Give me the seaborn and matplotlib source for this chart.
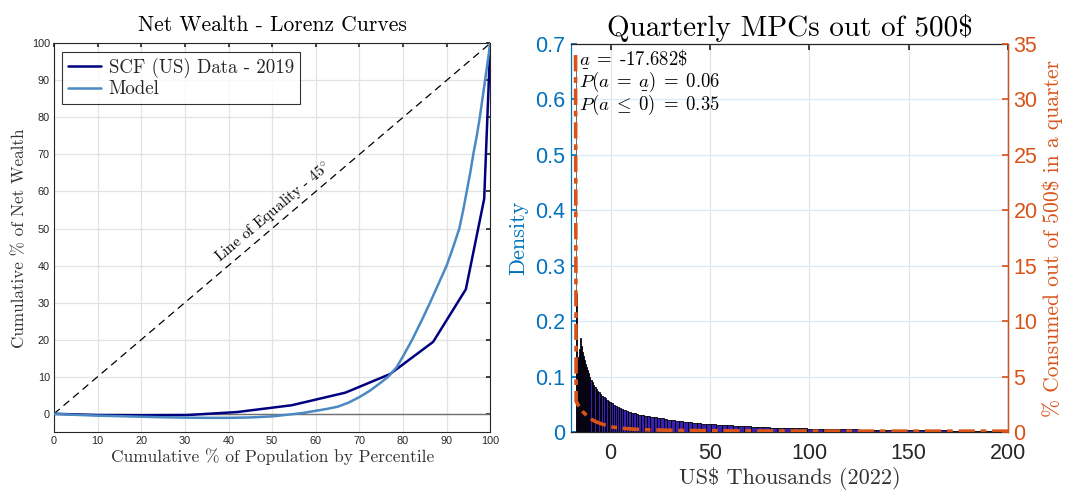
import numpy as np
import pandas as pd
import matplotlib
matplotlib.use("Agg")
import matplotlib.pyplot as plt
import seaborn as sns

# ---------------- data ----------------
# Lorenz curves (left)
scf_pop = [0, 10, 20, 30.4, 41.9, 54.5, 66.8, 77.0, 86.9, 94.4, 98.6, 100]
scf_wealth = [0, -0.35, -0.4, -0.35, 0.45, 2.3, 5.7, 10.7, 19.4, 33.6, 58.0, 100]

model_pop = [0, 5, 10, 15, 20, 25, 30, 35, 40, 45, 50, 54, 57, 60, 62.5, 65, 67.5,
             70, 72.5, 75, 76.6, 78.5, 80, 82.1, 84.2, 86.2, 88.1, 90, 91.5, 92.9,
             93.8, 94.6, 95.4, 96.1, 96.9, 97.6, 98.2, 98.8, 99.4, 100]
model_wealth = [0, -0.3, -0.5, -0.65, -0.8, -0.95, -1.05, -1.1, -1.1, -1.0, -0.7,
                -0.2, 0.2, 0.8, 1.3, 1.9, 3.0, 4.5, 6.3, 8.5, 10.0, 12.5, 15.5, 20.0,
                25.0, 30.0, 35.0, 40.0, 45.0, 50.0, 55.0, 60.0, 65.0, 70.0, 75.0,
                80.0, 85.0, 90.0, 95.0, 100]

# Wealth histogram (right), US$ thousands
bin_edges = [-17.682, -17.3, -16.9, -16.5, -16.1, -15.7, -15.3, -14.9, -14.5, -14.0,
             -13.5, -13.0, -12.5, -12.0, -11.4, -10.8, -10.2, -9.6, -9.0, -8.3, -7.6,
             -6.9, -6.2, -5.5, -4.7, -3.9, -3.1, -2.3, -1.5, -0.6, 0.3, 1.2, 2.2, 3.2,
             4.2, 5.3, 6.4, 7.6, 8.8, 10.0, 11.3, 12.6, 14.0, 15.4, 16.9, 18.4, 20.0,
             21.6, 23.3, 25.0, 26.8, 28.6, 30.5, 32.5, 34.5, 36.6, 38.8, 41.0, 43.3,
             45.7, 48.1, 50.6, 53.2, 55.9, 58.6, 61.4, 64.3, 67.3, 70.4, 73.6, 76.9,
             80.3, 83.8, 87.4, 91.1, 94.9, 98.8, 102.8, 106.9, 111.1, 115.4, 119.8,
             124.3, 128.9, 133.6, 138.4, 143.3, 148.3, 153.4, 158.6, 163.9, 169.3,
             174.8, 180.4, 186.1, 191.9, 197.8, 203.8]
density = [0.68, 0.25, 0.13, 0.135, 0.14, 0.15, 0.17, 0.155, 0.145, 0.138, 0.130,
           0.124, 0.118, 0.112, 0.106, 0.100, 0.095, 0.090, 0.086, 0.082, 0.078,
           0.075, 0.072, 0.069, 0.066, 0.063, 0.061, 0.058, 0.056, 0.054, 0.052,
           0.050, 0.048, 0.046, 0.044, 0.042, 0.040, 0.038, 0.037, 0.035, 0.034,
           0.033, 0.032, 0.031, 0.030, 0.029, 0.028, 0.027, 0.026, 0.025, 0.024,
           0.023, 0.022, 0.021, 0.020, 0.019, 0.018, 0.017, 0.016, 0.0155, 0.015,
           0.0143, 0.0136, 0.013, 0.0124, 0.0118, 0.0112, 0.0106, 0.010, 0.0095,
           0.009, 0.0086, 0.0082, 0.0078, 0.0074, 0.007, 0.0067, 0.0064, 0.0061,
           0.0058, 0.0055, 0.0052, 0.005, 0.0047, 0.0045, 0.0043, 0.0041, 0.0039,
           0.0037, 0.0035, 0.0034, 0.0032, 0.0031, 0.003, 0.0029, 0.0028, 0.0027]

# MPC curve (right axis, %)
mpc_wealth = [-17.682, -17.4, -16.5, -15.5, -14, -12, -10, -8, -6, -4, -2, 0, 3, 6,
              10, 15, 20, 30, 40, 50, 75, 100, 150, 200]
mpc_pct = [34.0, 2.8, 2.5, 2.2, 1.85, 1.5, 1.2, 1.0, 0.85, 0.72, 0.6, 0.5, 0.42,
           0.36, 0.3, 0.25, 0.22, 0.18, 0.16, 0.14, 0.12, 0.11, 0.1, 0.1]

left_ticks = list(range(0, 101, 10))
dens_ticks = [0, 0.1, 0.2, 0.3, 0.4, 0.5, 0.6, 0.7]
dens_labels = ["0", "0.1", "0.2", "0.3", "0.4", "0.5", "0.6", "0.7"]
mpc_ticks = [0, 5, 10, 15, 20, 25, 30, 35]
wealth_ticks = [0, 50, 100, 150, 200]

# ---------------- style ----------------
sns.set_theme(style="white")
plt.rcParams["font.family"] = ["Liberation Sans", "DejaVu Sans"]
plt.rcParams["mathtext.fontset"] = "cm"
plt.rcParams["axes.unicode_minus"] = False
SERIF = "cmr10"
BLUE = "#0072BD"
ORANGE = "#D95319"
DARK = "#262626"

fig = plt.figure(figsize=(10.67, 4.95), dpi=100)

# ---------------- left panel ----------------
ax = fig.add_axes([0.0506, 0.1267, 0.4089, 0.7859])
ax.set_axisbelow(True)
ax.grid(True, color="#e3e3e3", linewidth=0.9)
ax.axhline(0, color="#707070", linewidth=1.0, zorder=1)
ax.plot([0, 100], [0, 100], color="black", linestyle=(0, (6, 4)), linewidth=0.9, zorder=2)
sns.lineplot(x=scf_pop, y=scf_wealth, ax=ax, color="#000080", linewidth=1.8,
             estimator=None, sort=False, label="SCF (US) Data - 2019", zorder=3)
sns.lineplot(x=model_pop, y=model_wealth, ax=ax, color="#4A89C2", linewidth=1.8,
             estimator=None, sort=False, label="Model", zorder=3)
ax.set_xlim(0, 100)
ax.set_ylim(-5, 100)
ax.set_xticks(left_ticks)
ax.set_yticks(left_ticks)
ax.tick_params(axis="both", direction="in", length=3, labelsize=7.8, colors=DARK,
               top=True, right=True, pad=3)
for s in ax.spines.values():
    s.set_color(DARK)
    s.set_linewidth(0.8)
ax.set_title("Net Wealth - Lorenz Curves", fontfamily=SERIF, fontsize=15.5,
             color="black", pad=9)
ax.set_xlabel("Cumulative % of Population by Percentile", fontfamily=SERIF,
              fontsize=12.5, color="#333333", labelpad=1)
ax.set_ylabel("Cumulative % of Net Wealth", fontfamily=SERIF, fontsize=12.3,
              color="#333333", labelpad=3)
ax.text(50.3, 54.6, "Line of Equality - 45$^{\\circ}$", fontfamily=SERIF, fontsize=11,
        rotation=40.3, rotation_mode="anchor", ha="center", va="center", color="black")
leg = ax.legend(loc="upper left", prop={"family": SERIF, "size": 13.6},
                frameon=True, fancybox=False, edgecolor="black", handlelength=1.75,
                borderpad=0.3, labelspacing=0.15, handletextpad=0.4,
                borderaxespad=0.45)
leg.get_frame().set_linewidth(0.8)

# ---------------- right panel ----------------
axr = fig.add_axes([0.5351, 0.1267, 0.4096, 0.7844])
axr.set_axisbelow(True)
axr.xaxis.grid(True, color="#e3e3e3", linewidth=0.9)
axr.yaxis.grid(True, color="#dde9f4", linewidth=0.9)
centers = [(bin_edges[i] + bin_edges[i + 1]) / 2 for i in range(len(density))]
hist_df = pd.DataFrame({"wealth": centers, "density": density})
sns.histplot(data=hist_df, x="wealth", weights="density", bins=bin_edges,
             stat="count", ax=axr, color="#3A20B0", edgecolor="black",
             linewidth=0.6, alpha=1.0)
if axr.patches:
    axr.patches[0].set_facecolor("#8c8c8c")
    axr.patches[0].set_edgecolor("#555555")
axr.set_xlim(-20, 200)
axr.set_ylim(0, 0.7)
axr.set_xticks(wealth_ticks)
axr.set_yticks(dens_ticks)
axr.set_yticklabels(dens_labels)
axr.tick_params(axis="y", direction="in", length=4, labelsize=15.5, colors=BLUE, pad=4)
axr.tick_params(axis="x", direction="in", length=4, labelsize=15.5, colors=DARK,
                top=True, pad=8)
axr.set_xlabel("US\\$ Thousands (2022)", fontfamily=SERIF, fontsize=16,
               color="#333333", labelpad=2)
axr.set_ylabel("Density", fontfamily=SERIF, fontsize=16, color=BLUE, labelpad=5)
axr.set_title("Quarterly MPCs out of 500\\$", fontfamily=SERIF, fontsize=21,
              color="black", pad=6)
for name, s in axr.spines.items():
    s.set_linewidth(0.9)
    s.set_color(DARK)
axr.spines["left"].set_color(BLUE)

ax2 = axr.twinx()
sns.lineplot(x=mpc_wealth, y=mpc_pct, ax=ax2, color=ORANGE, linewidth=2.6,
             estimator=None, sort=False)
for ln in ax2.get_lines():
    ln.set_linestyle((0, (4.5, 1.6, 1.6, 1.6)))
ax2.set_ylim(0, 35)
ax2.set_yticks(mpc_ticks)
ax2.tick_params(axis="y", direction="in", length=4, labelsize=15.5, colors=ORANGE, pad=4)
ax2.set_ylabel("% Consumed out of 500\\$ in a quarter", fontfamily=SERIF,
               fontsize=15.5, color=ORANGE, labelpad=3)
for name, s in ax2.spines.items():
    s.set_linewidth(0.9)
    s.set_visible(False)
ax2.spines["right"].set_visible(True)
ax2.spines["right"].set_color(ORANGE)

UA = r"\underset{\_}{a}"
axr.text(0.018, 0.946, r"$" + UA + r"\;=\;$-17.682\$", transform=axr.transAxes,
         fontfamily=SERIF, fontsize=13.5, ha="left", va="baseline", color="black")
axr.text(0.018, 0.889, r"$P(a\;=\;" + UA + r")\;=\;0.06$", transform=axr.transAxes,
         fontsize=13.5, ha="left", va="baseline", color="black")
axr.text(0.018, 0.829, r"$P(a\;\leq\;0)\;=\;0.35$", transform=axr.transAxes,
         fontsize=13.5, ha="left", va="baseline", color="black")

fig.savefig("out.png", dpi=100)
